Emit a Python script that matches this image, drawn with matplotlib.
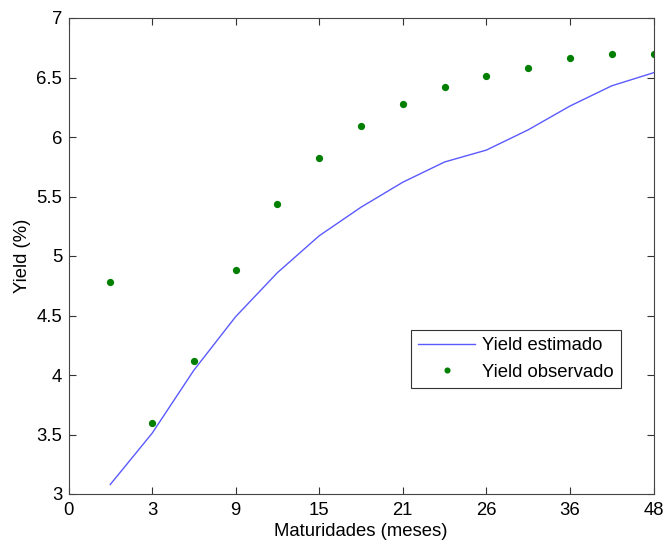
import matplotlib
matplotlib.use("Agg")
import matplotlib.pyplot as plt

# data
idx = list(range(1, 15))
tick_pos = [0, 2, 4, 6, 8, 10, 12, 14]
tick_labels = ["0", "3", "9", "15", "21", "26", "36", "48"]
yield_estimado = [3.08, 3.51, 4.04, 4.49, 4.86, 5.17, 5.41, 5.62, 5.79, 5.89, 6.06, 6.26, 6.43, 6.54]
yield_observado = [4.78, 3.60, 4.12, 4.88, 5.44, 5.82, 6.09, 6.28, 6.42, 6.51, 6.58, 6.66, 6.70, 6.70]

plt.rcParams['font.family'] = ['Liberation Sans', 'DejaVu Sans']
FS = 13.3

fig = plt.figure(figsize=(6.64, 5.41), dpi=100)
ax = fig.add_axes([68.5/664, 47/541, 585/664, 476/541])

ax.plot(idx, yield_estimado, color='#5a5aff', linewidth=1.0, label='Yield estimado')
ax.plot(idx, yield_observado, linestyle='none', marker='o', markersize=4.2,
        color='#007f00', label='Yield observado')

ax.set_xlim(0, 14)
ax.set_ylim(3, 7)
ax.set_xticks(tick_pos)
ax.set_xticklabels(tick_labels)
ax.set_yticks([3, 3.5, 4, 4.5, 5, 5.5, 6, 6.5, 7])
ax.set_yticklabels(["3", "3.5", "4", "4.5", "5", "5.5", "6", "6.5", "7"])
ax.tick_params(direction='in', top=True, right=True, length=5, width=0.8,
               color='#333333', labelsize=FS)
ax.tick_params(axis='x', pad=5.5)
ax.tick_params(axis='y', pad=4.5)
for s in ax.spines.values():
    s.set_color('#444444')
    s.set_linewidth(0.8)

ax.set_xlabel('Maturidades (meses)', fontsize=FS, labelpad=3)
ax.set_ylabel('Yield (%)', fontsize=FS, labelpad=4)

leg = ax.legend(loc='lower right', bbox_to_anchor=(0.944, 0.2227), fontsize=FS,
                fancybox=False, framealpha=1, edgecolor='#333333',
                borderaxespad=0, handlelength=3.1, handletextpad=0.35,
                borderpad=0.4, labelspacing=0.5, markerscale=0.8)
leg.get_frame().set_linewidth(0.8)

fig.savefig('out.png', dpi=100)
